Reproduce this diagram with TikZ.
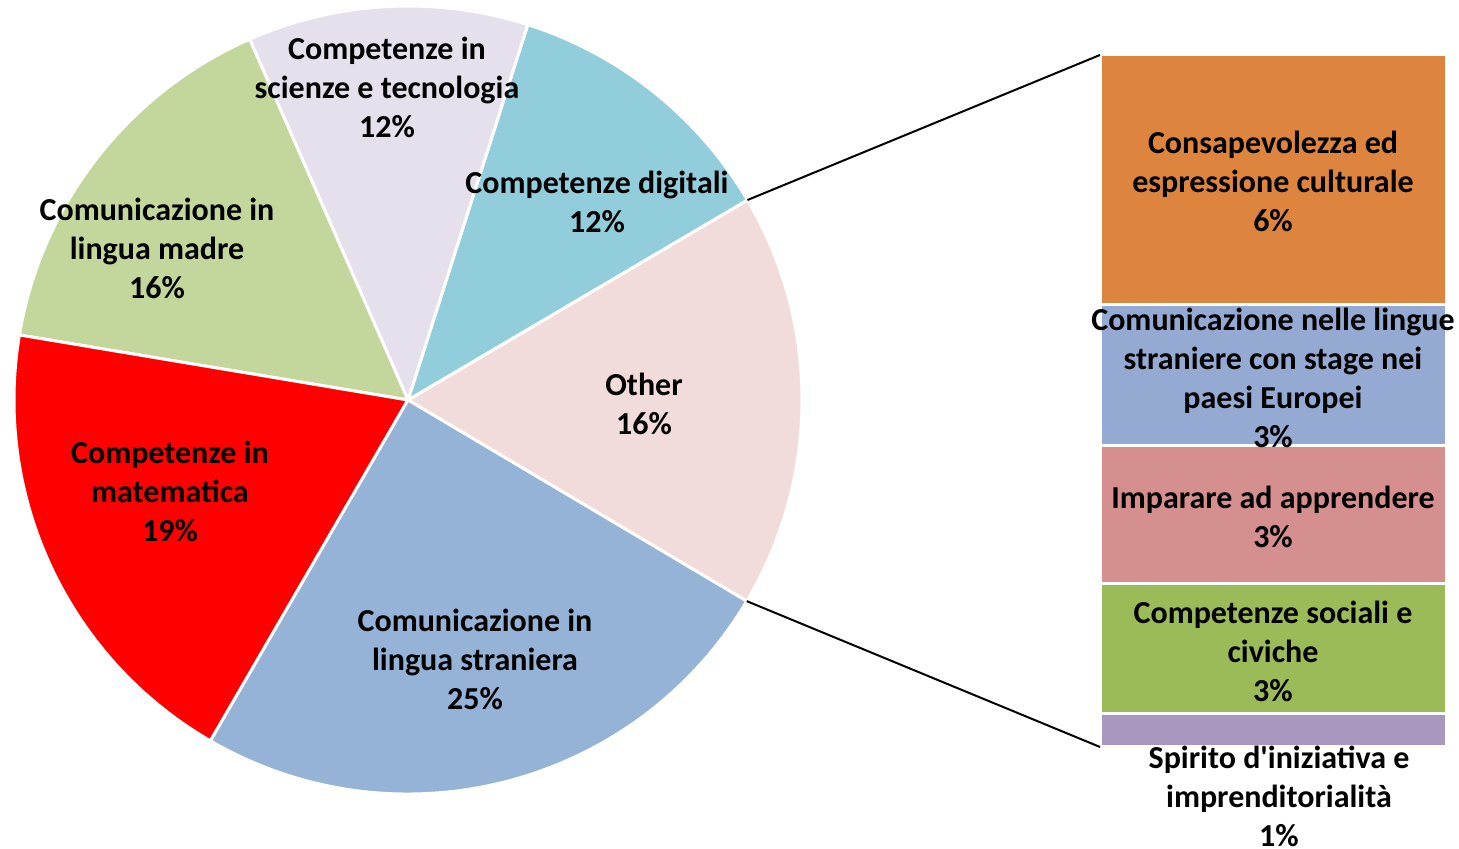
\documentclass[tikz,border=0pt]{standalone}
\usepackage{fontspec}
\setmainfont{Carlito}
\usetikzlibrary{calc}
\definecolor{cmatem}{RGB}{255,0,0}
\definecolor{cstran}{RGB}{149,179,215}
\definecolor{cmadre}{RGB}{195,214,155}
\definecolor{cscien}{RGB}{229,224,236}
\definecolor{cdigit}{RGB}{146,205,220}
\definecolor{cother}{RGB}{242,220,219}
\definecolor{bcult}{RGB}{221,132,63}
\definecolor{blingue}{RGB}{149,170,210}
\definecolor{bimpar}{RGB}{212,143,142}
\definecolor{bsoc}{RGB}{155,187,89}
\definecolor{bspir}{RGB}{168,152,192}
\tikzset{
	lbl/.style={font=\bfseries\fontsize{16}{19.5}\selectfont, align=center, inner sep=0pt},
	slice/.style={draw=white, line width=1.5},
	barseg/.style={draw=white, line width=1.5}
}
\def\wedge[#1](#2:#3){\draw[slice, fill=#1] (408, 449) -- ++(#2:394) arc (#2:#3:394) -- cycle;}

\begin{document}
\begin{tikzpicture}[x=0.5pt, y=0.5pt]
			%%%%% PIE %%%%%
			\useasboundingbox (0, 0) rectangle (1459, 849);
			
			\wedge[cother](-30.7:30.5)
			\wedge[cdigit](30.5:72.3)
			\wedge[cscien](72.3:113.7)
			\wedge[cmadre](113.7:170.5)
			\wedge[cmatem](170.5:239.9)
			\wedge[cstran](239.9:329.3)
			
			\coordinate (othertop) at ($(408, 449)+(30.5:394)$);
			\coordinate (otherbot) at ($(408, 449)+(-30.7:394)$);
			
			\node[lbl] (scienze) at (387, 762) {Competenze in\\scienze e tecnologia\\12\%};
			\node[lbl] (digitali) at (597, 647) {Competenze digitali\\12\%};
			\node[lbl] (madre) at (157, 601) {Comunicazione in\\lingua madre\\16\%};
			\node[lbl] (other) at (644, 445) {Other\\16\%};
			\node[lbl] (matem) at (170, 358) {Competenze in\\matematica\\19\%};
			\node[lbl] (stran) at (475, 190) {Comunicazione in\\lingua straniera\\25\%};
			
			%%%%% BAR %%%%%
			\draw[barseg, fill=bcult] (1100, 794) rectangle (1446, 544);
			\draw[barseg, fill=blingue] (1100, 544) rectangle (1446, 403);
			\draw[barseg, fill=bimpar] (1100, 403) rectangle (1446, 265);
			\draw[barseg, fill=bsoc] (1100, 265) rectangle (1446, 135);
			\draw[barseg, fill=bspir] (1100, 135) rectangle (1446, 102);
			
			\coordinate (bartop) at (1100, 794);
			\coordinate (barbot) at (1100, 102);
			
			\node[lbl] (cult) at (1273, 668) {Consapevolezza ed\\espressione culturale\\6\%};
			\node[lbl] (lingue) at (1273, 471) {Comunicazione nelle lingue\\straniere con stage nei\\paesi Europei\\3\%};
			\node[lbl] (impar) at (1273, 332) {Imparare ad apprendere\\3\%};
			\node[lbl] (soc) at (1273, 198) {Competenze sociali e\\civiche\\3\%};
			\node[lbl] (spir) at (1279, 53) {Spirito d\textquotesingle iniziativa e\\imprenditorialità\\1\%};
			
			\draw[line width=1] (othertop) -- (bartop);
			\draw[line width=1] (otherbot) -- (barbot);
		\end{tikzpicture}
\end{document}
